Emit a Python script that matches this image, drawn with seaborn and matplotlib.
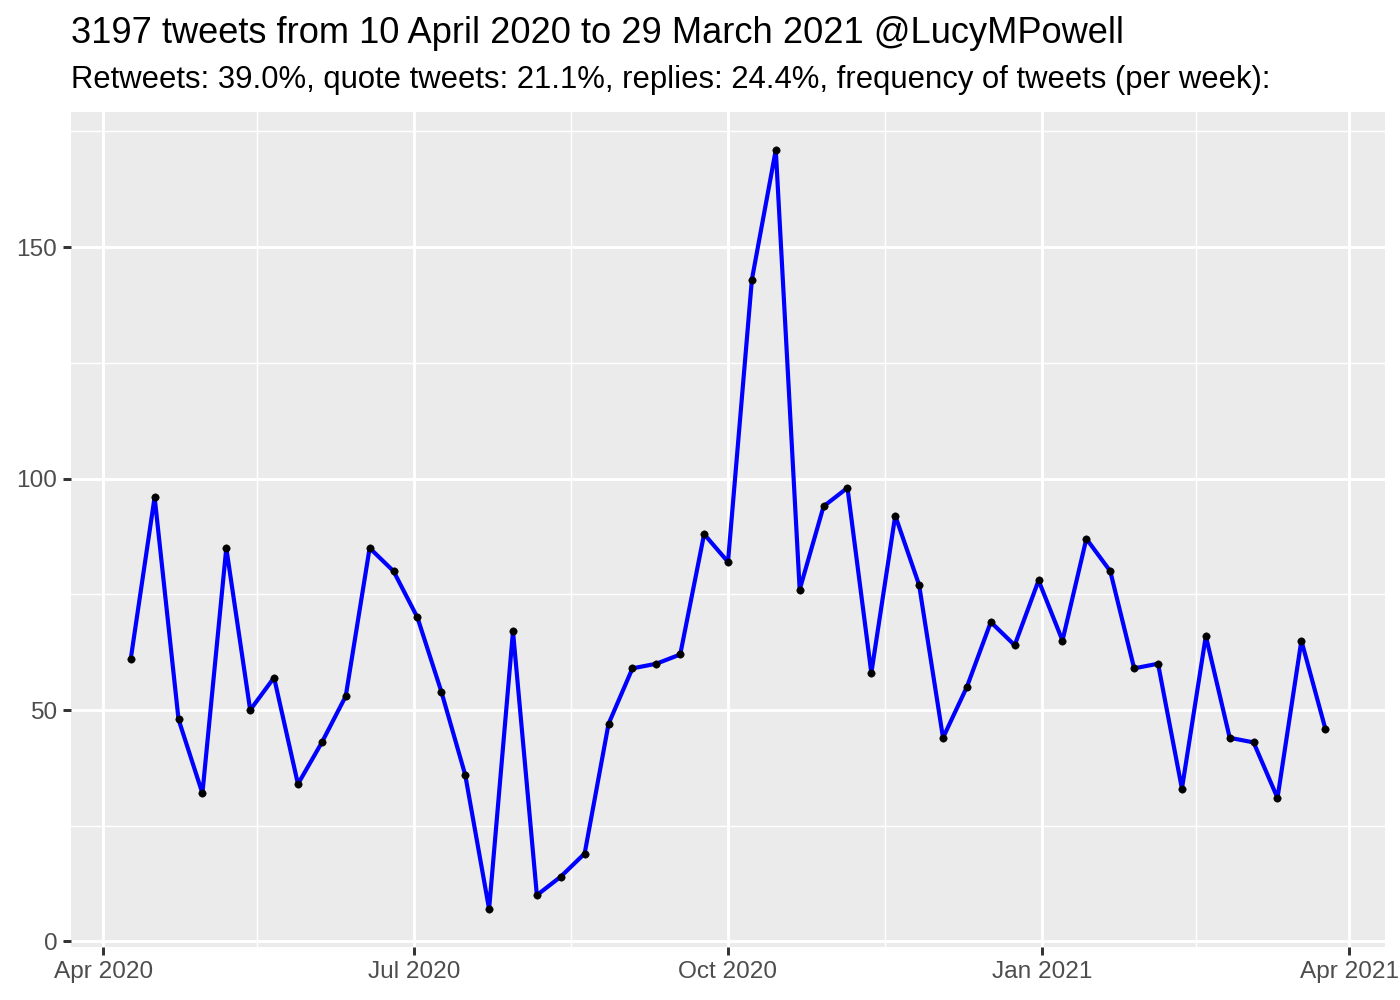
import numpy as np
import pandas as pd
import matplotlib
matplotlib.use("Agg")
import matplotlib.pyplot as plt
import matplotlib.dates as mdates
import seaborn as sns

# ---- data ----
start_date = "2020-04-09"
tweets_per_week = [61, 96, 48, 32, 85, 50, 57, 34, 43, 53,
                   85, 80, 70, 54, 36, 7, 67, 10, 14, 19,
                   47, 59, 60, 62, 88, 82, 143, 171, 76, 94,
                   98, 58, 92, 77, 44, 55, 69, 64, 78, 65,
                   87, 80, 59, 60, 33, 66, 44, 43, 31, 65, 46]
major_breaks = ["2020-04-01", "2020-07-01", "2020-10-01", "2021-01-01", "2021-04-01"]
minor_breaks = ["2020-05-16", "2020-08-16", "2020-11-16", "2021-02-15"]
y_breaks = [0, 50, 100, 150]
y_minor = [25, 75, 125, 175]
title = "3197 tweets from 10 April 2020 to 29 March 2021 @LucyMPowell"
subtitle = "Retweets: 39.0%, quote tweets: 21.1%, replies: 24.4%, frequency of tweets (per week):"

dates = pd.date_range(start_date, periods=len(tweets_per_week), freq="7D")
df = pd.DataFrame({"week": dates, "n": tweets_per_week})

sns.set_theme(style="darkgrid")
plt.rcParams["font.family"] = ["Liberation Sans", "DejaVu Sans"]

fig = plt.figure(figsize=(7, 5), dpi=200)
ax = fig.add_axes([71/1400, 1 - 947/1000, (1385-71)/1400, (947-112)/1000])
ax.set_facecolor("#EBEBEB")

sns.lineplot(data=df, x="week", y="n", ax=ax, color="#0000FF", linewidth=1.5, zorder=3)
sns.scatterplot(data=df, x="week", y="n", ax=ax, color="black", s=7, edgecolor="black",
                linewidth=0.2, zorder=4)

# limits with ggplot-like 5% expansion
xnum = mdates.date2num(df["week"])
xr = xnum.max() - xnum.min()
ax.set_xlim(xnum.min() - 0.05 * xr, xnum.max() + 0.05 * xr)
ymin, ymax = min(tweets_per_week), max(tweets_per_week)
yr = ymax - ymin
ax.set_ylim(ymin - 0.05 * yr, ymax + 0.05 * yr)

ax.set_xticks(mdates.date2num(pd.to_datetime(major_breaks)))
ax.xaxis.set_major_formatter(mdates.DateFormatter("%b %Y"))
ax.set_xticks(mdates.date2num(pd.to_datetime(minor_breaks)), minor=True)
ax.set_yticks(y_breaks)
ax.set_yticks(y_minor, minor=True)

ax.grid(which="major", color="white", linewidth=1.07)
ax.grid(which="minor", color="white", linewidth=0.53)
ax.set_axisbelow(True)
for s in ax.spines.values():
    s.set_visible(False)

ax.tick_params(axis="both", which="major", length=2.75, width=1.07, color="#333333",
               labelsize=8.8, labelcolor="#4D4D4D", pad=2.2, direction="out")
ax.tick_params(axis="both", which="minor", length=0)
ax.tick_params(axis="x", which="major", bottom=True)
ax.tick_params(axis="y", which="major", left=True)
ax.set_xlabel("")
ax.set_ylabel("")

fig.text(71/1400, 1 - 43/1000, title, fontsize=13.05, color="black", ha="left", va="baseline")
fig.text(71/1400, 1 - 88/1000, subtitle, fontsize=11.15, color="black", ha="left", va="baseline")

fig.savefig("out.png", dpi=200, facecolor="white")
